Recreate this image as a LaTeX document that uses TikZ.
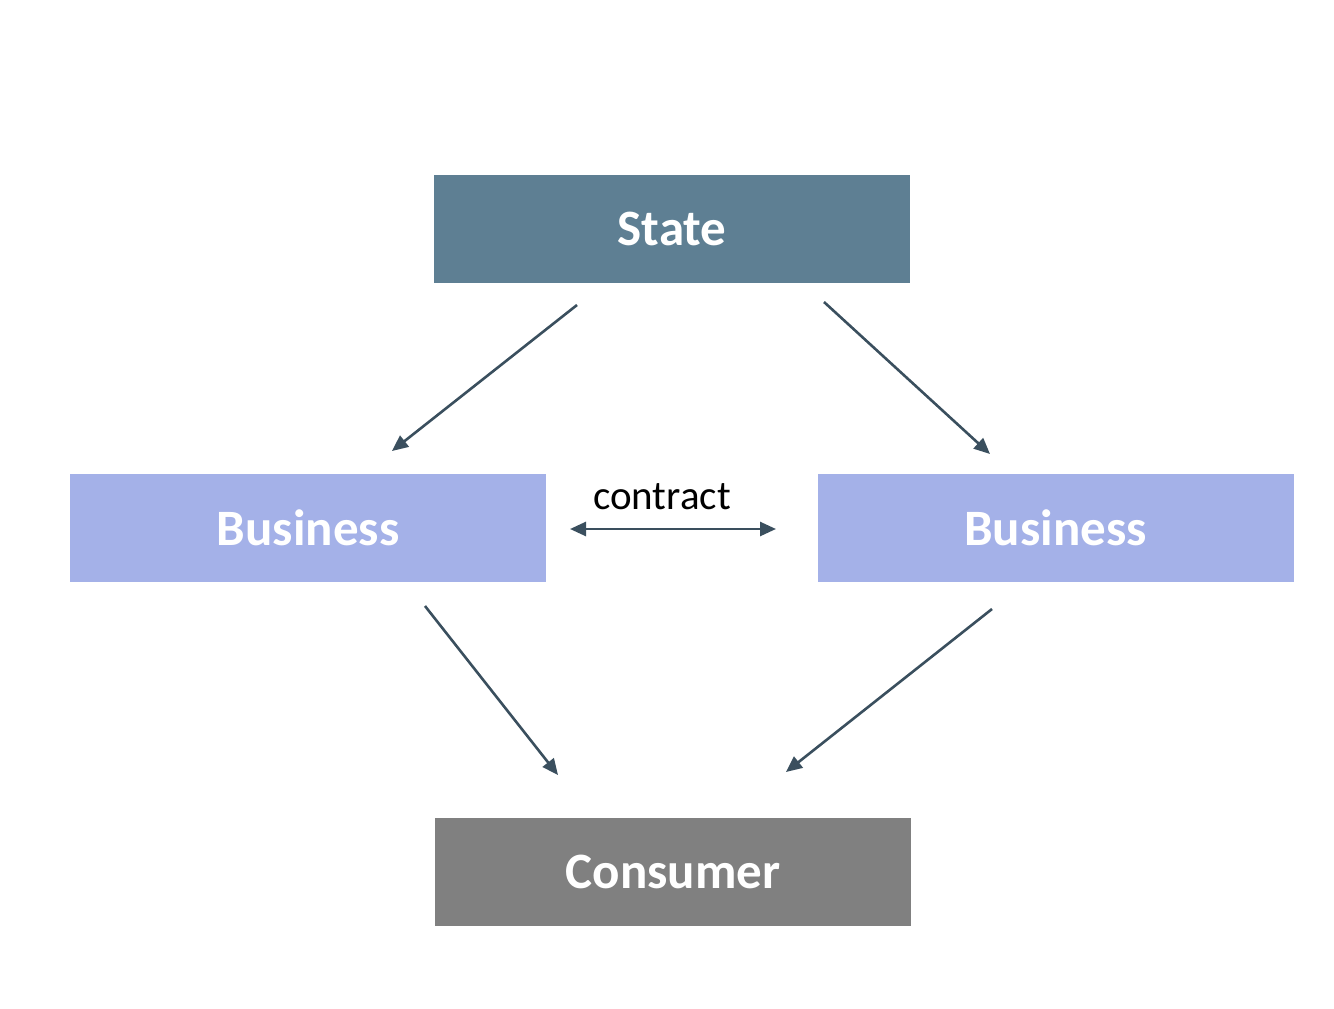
\documentclass[tikz,border=0pt]{standalone}
\usepackage{fontspec}
\setmainfont{Carlito}
\usetikzlibrary{arrows.meta}
\definecolor{statec}{HTML}{5E7F93}
\definecolor{busc}{HTML}{A4B1E8}
\definecolor{consc}{HTML}{808080}
\definecolor{arrc}{HTML}{3A4F5E}
\begin{document}
\begin{tikzpicture}[x=1pt,y=-1pt,
  box/.style={minimum width=476pt,minimum height=108pt,inner sep=0pt,text=white,
    font=\fontsize{51}{60}\selectfont\bfseries},
  conn/.style={draw=arrc,line width=2.6pt,-{Triangle[length=16pt,width=14pt]}},
  dconn/.style={draw=arrc,line width=2.6pt,{Triangle[length=16pt,width=14pt]}-{Triangle[length=16pt,width=14pt]}}]
\useasboundingbox (0,0) rectangle (1334,1009);
\node[box,fill=statec] (state) at (672,229) {State};
\node[box,fill=busc] (bl) at (308,528) {Business};
\node[box,fill=busc] (br) at (1055.5,528) {Business};
\node[box,fill=consc] (cons) at (673,872) {Consumer};
\coordinate (a1s) at (577,305); \coordinate (a1e) at (392,451);
\coordinate (a2s) at (824,302); \coordinate (a2e) at (990,454);
\coordinate (a3s) at (425,606); \coordinate (a3e) at (558,775);
\coordinate (a4s) at (992,609); \coordinate (a4e) at (786,772);
\coordinate (cl) at (570,529); \coordinate (cr) at (776,529);
\draw[conn] (a1s) -- (a1e);
\draw[conn] (a2s) -- (a2e);
\draw[conn] (a3s) -- (a3e);
\draw[conn] (a4s) -- (a4e);
\draw[dconn] (cl) -- (cr);
\node[font=\fontsize{41}{48}\selectfont,inner sep=0pt] (lbl) at (662,497) {contract};
\end{tikzpicture}
\end{document}
